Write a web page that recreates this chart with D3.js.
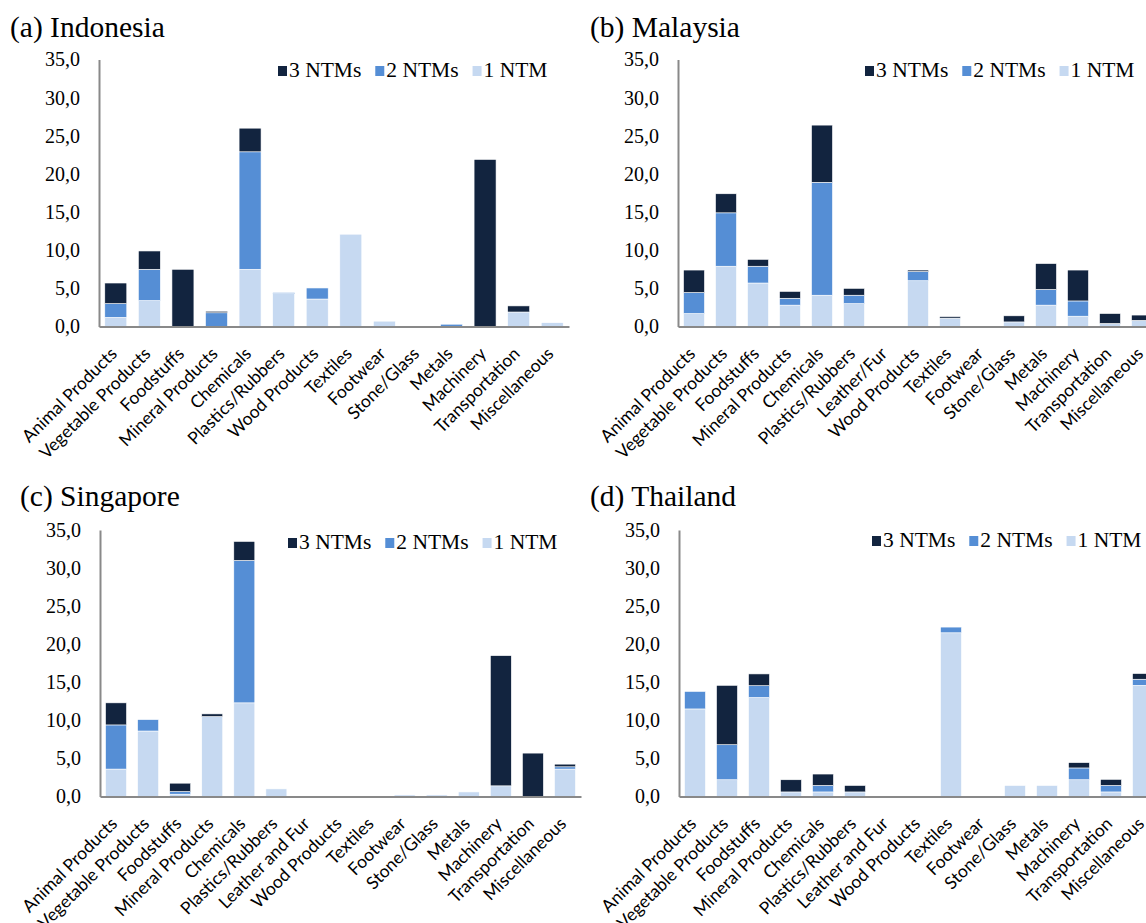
<!DOCTYPE html>
<html>
<head>
<meta charset="utf-8">
<script src="https://cdn.jsdelivr.net/npm/d3@7"></script>
<style>
  html, body { margin: 0; padding: 0; background: #fff; }
  svg { display: block; }
</style>
</head>
<body>
<svg id="chart" width="1146" height="923"></svg>
<script>
// Product groups (Indonesia has no Leather/Fur group)
const sectorsIndonesia = ["Animal Products", "Vegetable Products", "Foodstuffs", "Mineral Products", "Chemicals",
  "Plastics/Rubbers", "Wood Products", "Textiles", "Footwear", "Stone/Glass", "Metals", "Machinery",
  "Transportation", "Miscellaneous"];
const sectorsMalaysia = ["Animal Products", "Vegetable Products", "Foodstuffs", "Mineral Products", "Chemicals",
  "Plastics/Rubbers", "Leather/Fur", "Wood Products", "Textiles", "Footwear", "Stone/Glass", "Metals",
  "Machinery", "Transportation", "Miscellaneous"];
const sectorsOthers = ["Animal Products", "Vegetable Products", "Foodstuffs", "Mineral Products", "Chemicals",
  "Plastics/Rubbers", "Leather and Fur", "Wood Products", "Textiles", "Footwear", "Stone/Glass", "Metals",
  "Machinery", "Transportation", "Miscellaneous"];

const seriesNames = ["3 NTMs", "2 NTMs", "1 NTM"];
const yTicks = [0, 5, 10, 15, 20, 25, 30, 35];

// Share of products (%) covered by 1, 2 or 3 NTMs
const indonesiaOne   = [1.2, 3.4, 0, 0, 7.5, 4.3, 3.6, 12.1, 0.7, 0, 0, 0, 1.9, 0.5];
const indonesiaTwo   = [1.8, 4.1, 0, 1.8, 15.4, 0.15, 1.45, 0, 0, 0, 0.3, 0, 0, 0];
const indonesiaThree = [2.7, 2.4, 7.5, 0.2, 3.1, 0, 0, 0, 0, 0, 0, 21.9, 0.8, 0];

const malaysiaOne   = [1.7, 7.9, 5.7, 2.8, 4.1, 3.0, 0, 6.0, 1.1, 0, 0.6, 2.8, 1.35, 0.4, 0.8];
const malaysiaTwo   = [2.75, 7.0, 2.2, 0.9, 14.8, 1.1, 0, 1.2, 0, 0, 0, 2.05, 2.0, 0, 0];
const malaysiaThree = [2.95, 2.5, 0.9, 0.9, 7.5, 0.9, 0, 0.2, 0.2, 0, 0.8, 3.4, 4.05, 1.3, 0.7];

const singaporeOne   = [3.6, 8.6, 0.3, 10.5, 12.3, 1.0, 0, 0, 0, 0.2, 0.2, 0.6, 1.4, 0, 3.6];
const singaporeTwo   = [5.8, 1.5, 0.35, 0, 18.7, 0, 0, 0, 0, 0, 0, 0, 0, 0, 0.3];
const singaporeThree = [2.9, 0, 1.1, 0.35, 2.5, 0, 0, 0, 0, 0, 0, 0, 17.1, 5.7, 0.35];

const thailandOne   = [11.5, 2.2, 13.0, 0.6, 0.6, 0.6, 0, 0, 21.5, 0, 1.45, 1.45, 2.2, 0.6, 14.6];
const thailandTwo   = [2.3, 4.6, 1.55, 0, 0.85, 0, 0, 0, 0.75, 0, 0, 0, 1.55, 0.85, 0.8];
const thailandThree = [0, 7.8, 1.55, 1.6, 1.5, 0.85, 0, 0, 0, 0, 0, 0, 0.7, 0.8, 0.75];

const colors = { "3 NTMs": "#12243f", "2 NTMs": "#558ed5", "1 NTM": "#c6d9f1" };

const panels = [
  { title: "(a) Indonesia",  sectors: sectorsIndonesia, one: indonesiaOne, two: indonesiaTwo, three: indonesiaThree,
    titleX: 10, titleY: 37, x0: 99, x1: 569, yTop: 59.5, yBottom: 326.5, legendX: 278, legendY: 77 },
  { title: "(b) Malaysia",   sectors: sectorsMalaysia, one: malaysiaOne, two: malaysiaTwo, three: malaysiaThree,
    titleX: 590, titleY: 37, x0: 678, x1: 1158, yTop: 59.5, yBottom: 326.5, legendX: 865, legendY: 77 },
  { title: "(c) Singapore",  sectors: sectorsOthers, one: singaporeOne, two: singaporeTwo, three: singaporeThree,
    titleX: 20, titleY: 506, x0: 100, x1: 581, yTop: 530, yBottom: 796.5, legendX: 288, legendY: 549 },
  { title: "(d) Thailand",   sectors: sectorsOthers, one: thailandOne, two: thailandTwo, three: thailandThree,
    titleX: 590, titleY: 506, x0: 679, x1: 1159, yTop: 530, yBottom: 796.5, legendX: 872, legendY: 547 }
];

const svg = d3.select("#chart");
const serif = "'Liberation Serif', 'Times New Roman', serif";
const sans = "Lato, 'Open Sans', sans-serif";

panels.forEach(p => {
  const g = svg.append("g");

  const rows = p.sectors.map((s, i) => ({ sector: s, "1 NTM": p.one[i], "2 NTMs": p.two[i], "3 NTMs": p.three[i] }));
  const stacked = d3.stack().keys(["1 NTM", "2 NTMs", "3 NTMs"])(rows);

  const x = d3.scaleBand().domain(p.sectors).range([p.x0, p.x1]).paddingInner(0.345).paddingOuter(0.1725);
  const y = d3.scaleLinear().domain([0, 35]).range([p.yBottom, p.yTop]);

  // stacked bars
  g.selectAll("g.layer").data(stacked).join("g")
    .attr("fill", d => colors[d.key])
    .selectAll("rect").data(d => d).join("rect")
      .attr("x", d => x(d.data.sector))
      .attr("width", x.bandwidth())
      .attr("y", d => y(d[1]))
      .attr("height", d => Math.max(0, y(d[0]) - y(d[1])))
      .attr("stroke", "#ffffff")
      .attr("stroke-width", 0.6);

  // y axis
  const yAxis = d3.axisLeft(y).tickValues(yTicks).tickSize(0).tickPadding(19)
    .tickFormat(d => d3.format(".1f")(d).replace(".", ","));
  const ya = g.append("g").attr("transform", `translate(${p.x0},0)`).call(yAxis);
  ya.attr("font-family", null).attr("font-size", null);
  ya.select(".domain").attr("stroke", "#898989").attr("stroke-width", 2);
  ya.selectAll("text").style("font-family", serif).style("font-size", "20px").attr("fill", "#000");

  // x axis
  const xAxis = d3.axisBottom(x).tickSize(0).tickPadding(0);
  const xa = g.append("g").attr("transform", `translate(0,${p.yBottom})`).call(xAxis);
  xa.attr("font-family", null).attr("font-size", null);
  xa.select(".domain").attr("stroke", "#898989").attr("stroke-width", 2);
  xa.selectAll(".tick text")
    .style("font-family", sans).style("font-size", "17.5px").attr("fill", "#000")
    .attr("text-anchor", "end")
    .attr("dy", "0.35em")
    .attr("transform", "translate(-2,24) rotate(-45)")
    .attr("y", 0);

  // panel title
  g.append("text").attr("x", p.titleX).attr("y", p.titleY)
    .style("font-family", serif).style("font-size", "29.5px").attr("fill", "#000").text(p.title);

  // legend
  const lg = g.append("g").attr("transform", `translate(${p.legendX},${p.legendY})`);
  let cx = 0;
  seriesNames.forEach(name => {
    lg.append("rect").attr("x", cx).attr("y", -11).attr("width", 9).attr("height", 10).attr("fill", colors[name]);
    const t = lg.append("text").attr("x", cx + 11).attr("y", 0)
      .style("font-family", serif).style("font-size", "21.5px").attr("fill", "#000").text(name);
    cx += 11 + t.node().getComputedTextLength() + 14;
  });
});
</script>
</body>
</html>
